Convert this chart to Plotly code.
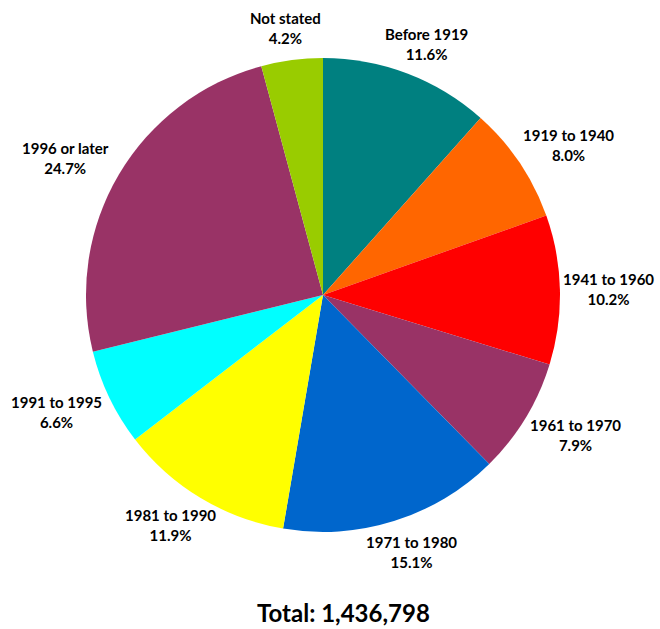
import math
import plotly.graph_objects as go

labels = ["Before 1919", "1919 to 1940", "1941 to 1960", "1961 to 1970", "1971 to 1980",
          "1981 to 1990", "1991 to 1995", "1996 or later", "Not stated"]
percents = [11.6, 8.0, 10.2, 7.9, 15.1, 11.9, 6.6, 24.7, 4.2]
colors = ["#008080", "#FF6600", "#FF0000", "#993366", "#0066CC",
          "#FFFF00", "#00FFFF", "#993366", "#99CC00"]
total_text = "Total: 1,436,798"

W, H = 660, 629
cx, cy, R = 323, 295, 237

fig = go.Figure(go.Pie(
    labels=labels, values=percents, sort=False, direction="clockwise", rotation=0,
    marker=dict(colors=colors, line=dict(width=0)),
    textinfo="none", hoverinfo="label+percent", showlegend=False,
    domain=dict(x=[(cx - R) / W, (cx + R) / W], y=[1 - (cy + R) / H, 1 - (cy - R) / H]),
))

fs = 15
font = dict(family="Lato, 'Open Sans', sans-serif", size=fs, color="black")
tot = sum(percents)
cum = 0.0
annotations = []
for lab, p in zip(labels, percents):
    mid = (cum + p / 2) / tot * 2 * math.pi
    cum += p
    ux, uy = math.sin(mid), -math.cos(mid)
    w = 7.6 * len(lab)
    h = 38
    x = cx + 250 * ux + ux * w / 2
    y = cy + 250 * uy + uy * h / 2
    x = min(x, W - 6 - w / 2)
    annotations.append(dict(
        x=x / W, y=1 - y / H, xref="paper", yref="paper", showarrow=False,
        text=f"<b>{lab}<br>{p:.1f}%</b>", font=font, align="center",
        xanchor="center", yanchor="middle"))

annotations.append(dict(
    x=343 / W, y=1 / H, xref="paper", yref="paper", showarrow=False,
    text=f"<b>{total_text}</b>", font=dict(family="Lato, sans-serif", size=24, color="black"),
    xanchor="center", yanchor="bottom", borderpad=0))

fig.update_layout(
    width=W, height=H, margin=dict(l=0, r=0, t=0, b=0),
    paper_bgcolor="white", plot_bgcolor="white", annotations=annotations,
)
fig.write_html("out.html")
